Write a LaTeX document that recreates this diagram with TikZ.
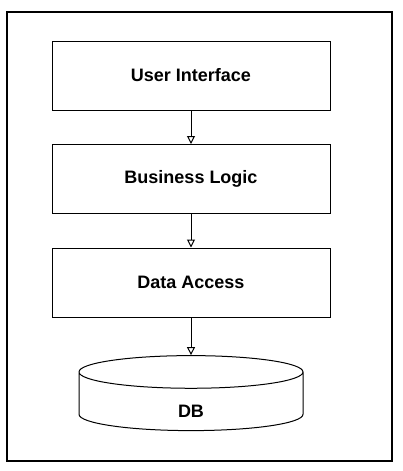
\documentclass[tikz,border=0pt]{standalone}
\usepackage{fontspec}
\setmainfont{Liberation Sans}
\usetikzlibrary{arrows.meta,shapes.geometric}

\tikzset{
  layer/.style={draw, line width=1pt, minimum width=278pt, minimum height=69pt,
    font=\bfseries\fontsize{18}{21}\selectfont},
  store/.style={draw, line width=1pt, cylinder, shape border rotate=90, aspect=1,
    minimum width=224pt, minimum height=75pt, font=\bfseries\fontsize{18}{21}\selectfont}
}

\begin{document}
\begin{tikzpicture}[x=1pt, y=-1pt, node distance = 103.5pt,
  >={Triangle[open,length=8pt,width=8pt]}]
\useasboundingbox (0,0) rectangle (403,471);
\node[draw, line width=1.2pt, minimum width=385pt, minimum height=449pt] (frame) at (199.5,236.5) {};

\node[layer] (ui) at (191,75.5) {User Interface};
\node[layer] (bl) [below of = ui] {Business Logic};
\node[layer] (da) [below of = bl] {Data Access};
\node[store] (db) [below of = da, yshift=-17.5pt] {\raisebox{-8pt}[\height][\depth]{DB}};

\path[->, line width=1pt] (ui) edge (bl)
        (bl) edge (da)
        (da) edge (db);
\end{tikzpicture}
\end{document}
